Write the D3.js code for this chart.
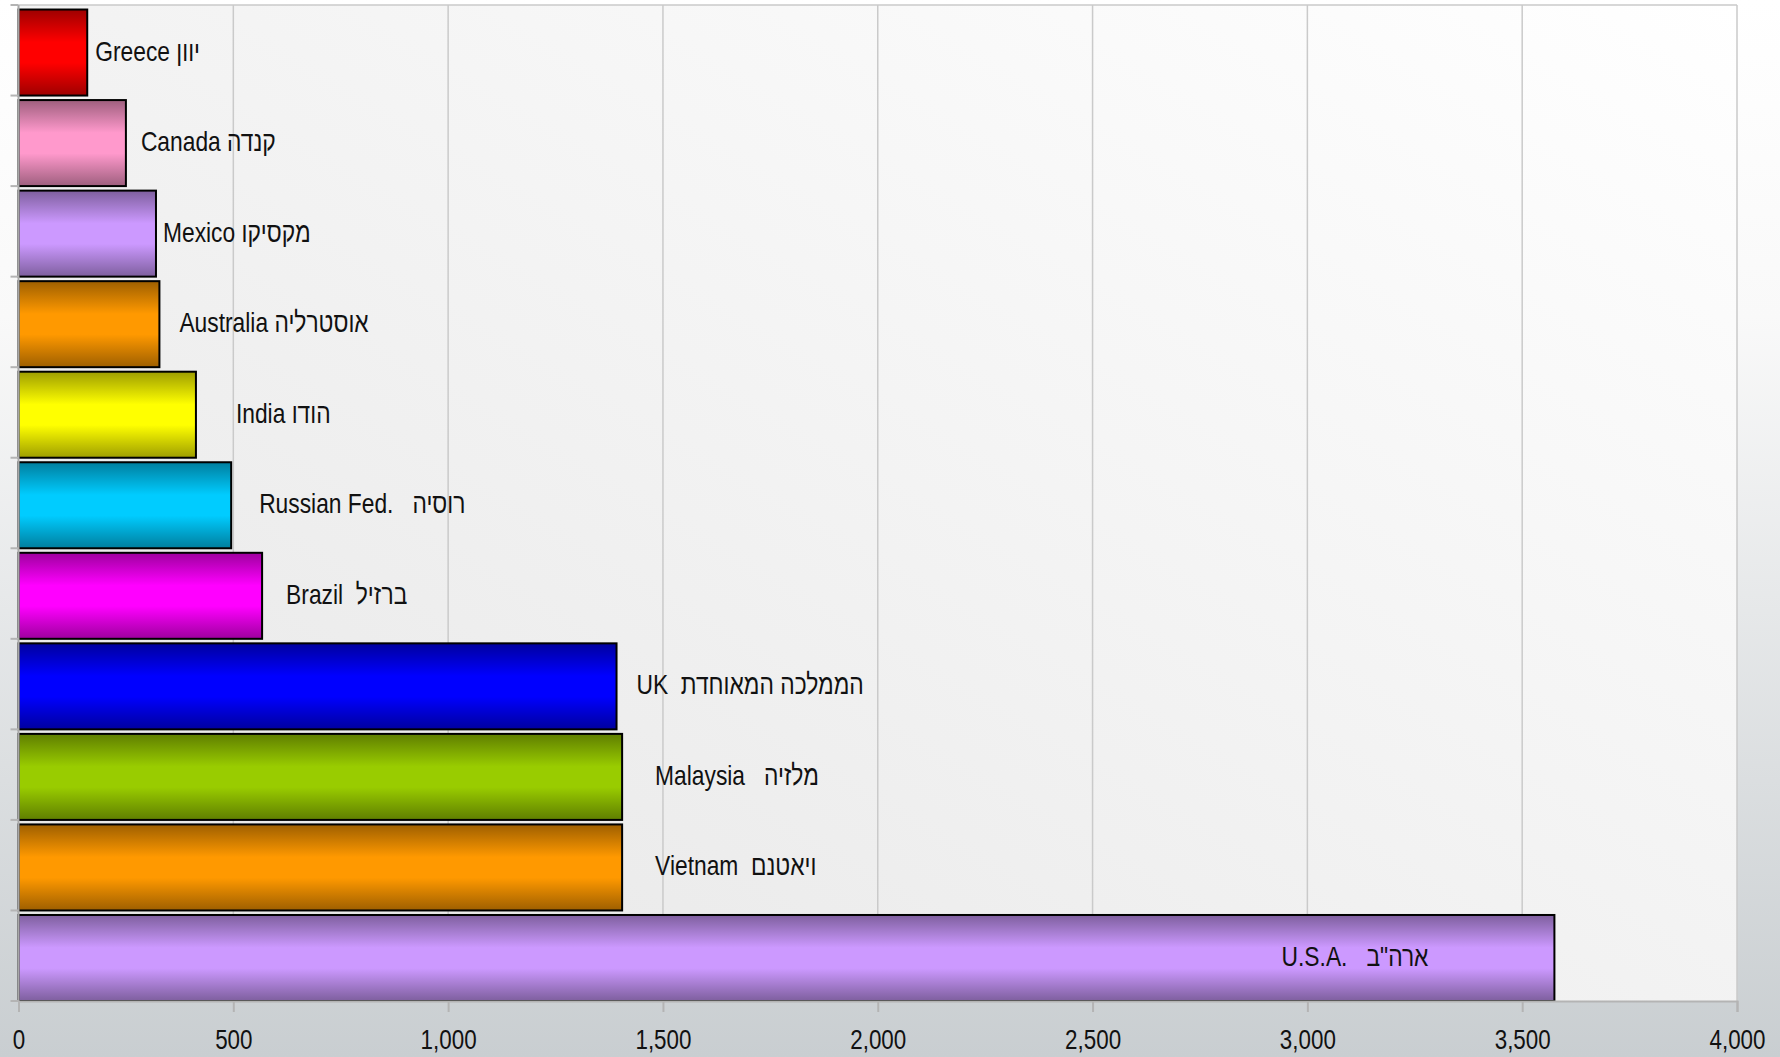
<!DOCTYPE html>
<html>
<head>
<meta charset="utf-8">
<script src="https://cdn.jsdelivr.net/npm/d3@7"></script>
<style>
  body { margin: 0; background: #fff; }
  svg text { font-family: "Liberation Sans", Arial, sans-serif; fill: #111; }
</style>
</head>
<body>
<svg id="chart" width="1780" height="1057"></svg>
<script>
// data, top to bottom as in the picture
const countries = ["Greece", "Canada", "Mexico", "Australia", "India", "Russian Fed.", "Brazil", "UK", "Malaysia", "Vietnam", "U.S.A."];
const labels = ["Greece יוון", "Canada קנדה", "Mexico מקסיקו", "Australia אוסטרליה", "India הודו", "Russian Fed.   רוסיה",
                "Brazil  ברזיל", "UK  הממלכה המאוחדת", "Malaysia   מלזיה", "Vietnam  ויאטנם", "U.S.A.   ארה\"ב"];
const values = [160, 250, 320, 328, 413, 495, 567, 1392, 1405, 1405, 3575];
const barColors = ["#ff0000", "#ff99cc", "#cc99ff", "#ff9900", "#ffff00", "#00ccff", "#ff00ff", "#0000ff", "#99cc00", "#ff9900", "#cc99ff"];
const xTicks = [0, 500, 1000, 1500, 2000, 2500, 3000, 3500, 4000];
// how far each label sits from the end of its bar (px); negative = inside the bar
const labelDx = [8, 15, 7, 20, 40, 28, 24, 20, 33, 33, -126];

// no narrow font installed, so squeeze the regular one
const narrow = 0.8;

let svg = d3.select("#chart");
let plotL = 18.5, plotR = 1737, plotT = 5, plotB = 1001;

let x = d3.scaleLinear().domain([0, 4000]).range([plotL, plotR]);
let y = d3.scaleBand().domain(countries).range([plotT, plotB]).padding(0);
let step = y.step();

let defs = svg.append("defs");
// page background
let bg = defs.append("linearGradient").attr("id", "bg")
  .attr("x1", 0).attr("y1", 0).attr("x2", 0).attr("y2", 1);
bg.append("stop").attr("offset", "0%").attr("stop-color", "#ffffff");
bg.append("stop").attr("offset", "30%").attr("stop-color", "#f9f9f9");
bg.append("stop").attr("offset", "100%").attr("stop-color", "#c9ced1");
// plot area
let pg = defs.append("linearGradient").attr("id", "plotbg")
  .attr("x1", 0).attr("y1", 1).attr("x2", 1).attr("y2", 0);
pg.append("stop").attr("offset", "0%").attr("stop-color", "#e6e6e6");
pg.append("stop").attr("offset", "100%").attr("stop-color", "#ffffff");

// bar gradients: dark edge, bright middle, dark edge
barColors.forEach((c, i) => {
  let base = d3.rgb(c);
  let dark = d3.rgb(base.r * 0.62, base.g * 0.62, base.b * 0.62);
  let g = defs.append("linearGradient").attr("id", "bar" + i)
    .attr("x1", 0).attr("y1", 0).attr("x2", 0).attr("y2", 1);
  g.append("stop").attr("offset", "0%").attr("stop-color", dark);
  g.append("stop").attr("offset", "38%").attr("stop-color", base);
  g.append("stop").attr("offset", "62%").attr("stop-color", base);
  g.append("stop").attr("offset", "100%").attr("stop-color", dark);
});

svg.append("rect").attr("width", 1780).attr("height", 1057).attr("fill", "url(#bg)");
svg.append("rect")
   .attr("x", plotL).attr("y", plotT)
   .attr("width", plotR - plotL).attr("height", plotB - plotT)
   .attr("fill", "url(#plotbg)");

// vertical grid lines
svg.append("g").selectAll("line")
   .data(xTicks.slice(1))
   .enter().append("line")
   .attr("x1", d => x(d)).attr("x2", d => x(d))
   .attr("y1", plotT).attr("y2", plotB)
   .attr("stroke", "#cacaca").attr("stroke-width", 1.5);
svg.append("line")
   .attr("x1", plotL).attr("x2", plotR).attr("y1", plotT).attr("y2", plotT)
   .attr("stroke", "#cacaca").attr("stroke-width", 1.5);

// bars
svg.append("g").selectAll("rect")
   .data(values)
   .enter().append("rect")
   .attr("x", plotL)
   .attr("y", (d, i) => y(countries[i]) + step * 0.05)
   .attr("width", d => x(d) - plotL)
   .attr("height", step * 0.95)
   .attr("fill", (d, i) => "url(#bar" + i + ")")
   .attr("stroke", "#000")
   .attr("stroke-width", 2);

// x axis
let xAxis = svg.append("g")
   .attr("transform", "translate(0," + plotB + ")")
   .call(d3.axisBottom(x).tickValues(xTicks).tickFormat(d3.format(",")).tickSize(11).tickPadding(0));
xAxis.select(".domain").attr("stroke", "#b4b4b4").attr("stroke-width", 2);
xAxis.selectAll(".tick line").attr("stroke", "#b4b4b4").attr("stroke-width", 2);
xAxis.selectAll(".tick text")
   .attr("y", 0).attr("dy", 0)
   .attr("transform", "translate(0,48) scale(" + narrow + ",1)")
   .style("font-size", "28px").attr("fill", "#111");

// y axis: ticks at band edges, no labels
let edges = countries.map(c => y(c)).concat([plotB]);
svg.append("line")
   .attr("x1", plotL).attr("x2", plotL).attr("y1", plotT).attr("y2", plotB)
   .attr("stroke", "#a8a8a8").attr("stroke-width", 2);
svg.append("g").selectAll("line")
   .data(edges)
   .enter().append("line")
   .attr("x1", plotL - 8).attr("x2", plotL)
   .attr("y1", d => d).attr("y2", d => d)
   .attr("stroke", "#b4b4b4").attr("stroke-width", 2);

// labels
svg.append("g").selectAll("text")
   .data(labels)
   .enter().append("text")
   .attr("transform", (d, i) => "translate(" + (x(values[i]) + labelDx[i]) + "," +
         (y(countries[i]) + step * 0.5) + ") scale(" + narrow + ",1)")
   .attr("dy", "0.36em")
   .attr("text-anchor", (d, i) => labelDx[i] < 0 ? "end" : "start")
   .style("white-space", "pre")
   .style("font-size", "28.5px")
   .text(d => d);
</script>
</body>
</html>
